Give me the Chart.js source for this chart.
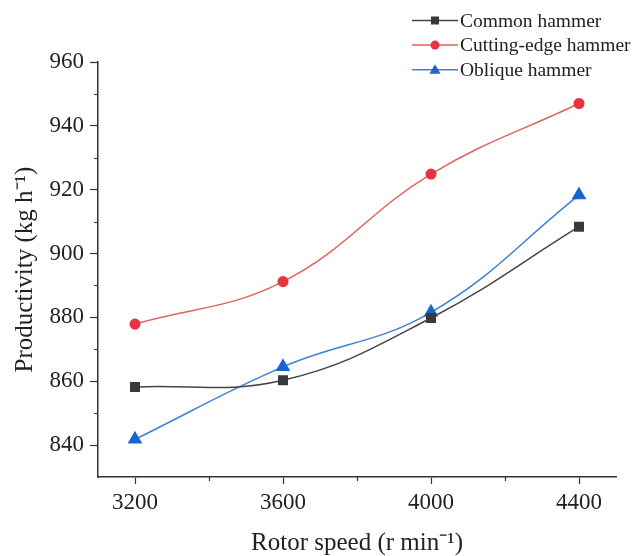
<!DOCTYPE html>
<html>
<head>
<meta charset="utf-8">
<script src="https://cdn.jsdelivr.net/npm/chart.js@4"></script>
<style>
  html, body { margin: 0; padding: 0; background: #fff; }
  #wrap { width: 632px; height: 556px; }
</style>
</head>
<body>
<div id="wrap"><canvas id="chart"></canvas></div>
<script>
// valores
var rotorSpeed = [3200, 3600, 4000, 4400];
var commonHammer = [858.2, 860.3, 879.8, 908.4];
var cuttingEdgeHammer = [877.9, 891.2, 924.9, 947.0];
var obliqueHammer = [841.8, 864.5, 881.6, 918.3];
var seriesNames = ['Common hammer', 'Cutting-edge hammer', 'Oblique hammer'];
var xTicks = [3200, 3600, 4000, 4400];
var xMinorTicks = [3400, 3800, 4200];
var yTicks = [840, 860, 880, 900, 920, 940, 960];
var yMinorTicks = [850, 870, 890, 910, 930, 950];

var serif = "'Liberation Serif', 'Times New Roman', serif";

function toPoints(values) {
    return values.map(function (v, i) { return { x: rotorSpeed[i], y: v }; });
}

// leyenda con linea + marcador como en Origin
var legendLines = {
    id: 'legendLines',
    afterDraw: function (chart) {
        var ctx = chart.ctx;
        chart.data.datasets.forEach(function (ds, i) {
            var y = 20.5 + i * 24.6;
            ctx.save();
            ctx.strokeStyle = ds.borderColor;
            ctx.lineWidth = 1.5;
            ctx.beginPath();
            ctx.moveTo(412, y);
            ctx.lineTo(458, y);
            ctx.stroke();
            ctx.fillStyle = ds.pointBackgroundColor;
            ctx.beginPath();
            if (ds.pointStyle === 'rect') {
                ctx.rect(431, y - 4, 8, 8);
            } else if (ds.pointStyle === 'circle') {
                ctx.arc(435, y, 4.5, 0, Math.PI * 2);
            } else {
                ctx.moveTo(435, y - 5.5);
                ctx.lineTo(440.5, y + 4);
                ctx.lineTo(429.5, y + 4);
                ctx.closePath();
            }
            ctx.fill();
            ctx.fillStyle = '#222';
            ctx.font = '19.5px ' + serif;
            ctx.textBaseline = 'middle';
            ctx.fillText(ds.label, 460, y + 1);
            ctx.restore();
        });
    }
};

// ticks menores
var minorTicks = {
    id: 'minorTicks',
    afterDraw: function (chart) {
        var ctx = chart.ctx;
        var xs = chart.scales.x, ys = chart.scales.y;
        var area = chart.chartArea;
        ctx.save();
        ctx.strokeStyle = '#333';
        ctx.lineWidth = 1.2;
        ctx.beginPath();
        yMinorTicks.forEach(function (v) {
            var py = Math.round(ys.getPixelForValue(v)) + 0.5;
            ctx.moveTo(area.left, py);
            ctx.lineTo(area.left - 4, py);
        });
        xMinorTicks.forEach(function (v) {
            var px = Math.round(xs.getPixelForValue(v)) + 0.5;
            ctx.moveTo(px, area.bottom);
            ctx.lineTo(px, area.bottom + 4);
        });
        ctx.stroke();
        ctx.restore();
    }
};

var ctx = document.getElementById('chart').getContext('2d');
var chart = new Chart(ctx, {
    type: 'line',
    data: {
        datasets: [{
            label: seriesNames[0],
            data: toPoints(commonHammer),
            borderColor: '#454545',
            backgroundColor: '#3a3a3a',
            pointBackgroundColor: '#3a3a3a',
            pointBorderColor: '#3a3a3a',
            pointStyle: 'rect',
            pointRadius: 6,
            borderWidth: 1.5,
            tension: 0.4
        }, {
            label: seriesNames[1],
            data: toPoints(cuttingEdgeHammer),
            borderColor: '#e2605f',
            backgroundColor: '#e8343c',
            pointBackgroundColor: '#e8343c',
            pointBorderColor: '#e8343c',
            pointStyle: 'circle',
            pointRadius: 4.8,
            borderWidth: 1.5,
            tension: 0.4
        }, {
            label: seriesNames[2],
            data: toPoints(obliqueHammer),
            borderColor: '#3f80d2',
            backgroundColor: '#1a64d2',
            pointBackgroundColor: '#1a64d2',
            pointBorderColor: '#1a64d2',
            pointStyle: 'triangle',
            pointRadius: 7,
            borderWidth: 1.5,
            tension: 0.4
        }]
    },
    options: {
        responsive: true,
        maintainAspectRatio: false,
        animation: false,
        layout: { padding: { top: 62, right: 16, bottom: 0, left: 0 } },
        plugins: {
            legend: { display: false },
            tooltip: { enabled: false }
        },
        scales: {
            x: {
                type: 'linear',
                min: 3100,
                max: 4500,
                afterBuildTicks: function (scale) {
                    scale.ticks = xTicks.map(function (v) { return { value: v }; });
                },
                afterFit: function (scale) { scale.height = 79; },
                grid: { drawOnChartArea: false, drawTicks: true, tickLength: 7, tickColor: '#333', tickWidth: 1.2 },
                border: { display: true, color: '#333', width: 1.5 },
                ticks: {
                    color: '#222',
                    padding: 5,
                    maxRotation: 0,
                    font: { family: serif, size: 23 },
                    callback: function (v) { return String(v); }
                },
                title: {
                    display: true,
                    text: 'Rotor speed (r min\u207B\u00B9)',
                    color: '#222',
                    font: { family: serif, size: 25, lineHeight: 1 },
                    padding: { top: 0, bottom: 0 }
                }
            },
            y: {
                min: 830,
                max: 960,
                afterBuildTicks: function (scale) {
                    scale.ticks = yTicks.map(function (v) { return { value: v }; });
                },
                afterFit: function (scale) { scale.width = 98; },
                grid: { drawOnChartArea: false, drawTicks: true, tickLength: 8, tickColor: '#333', tickWidth: 1.2 },
                border: { display: true, color: '#333', width: 1.5 },
                ticks: {
                    color: '#222',
                    padding: 6,
                    font: { family: serif, size: 23 }
                },
                title: {
                    display: true,
                    text: 'Productivity (kg h\u207B\u00B9)',
                    color: '#222',
                    font: { family: serif, size: 25, lineHeight: 1 },
                    padding: { top: 13, bottom: 0 }
                }
            }
        }
    },
    plugins: [legendLines, minorTicks]
});
</script>
</body>
</html>
